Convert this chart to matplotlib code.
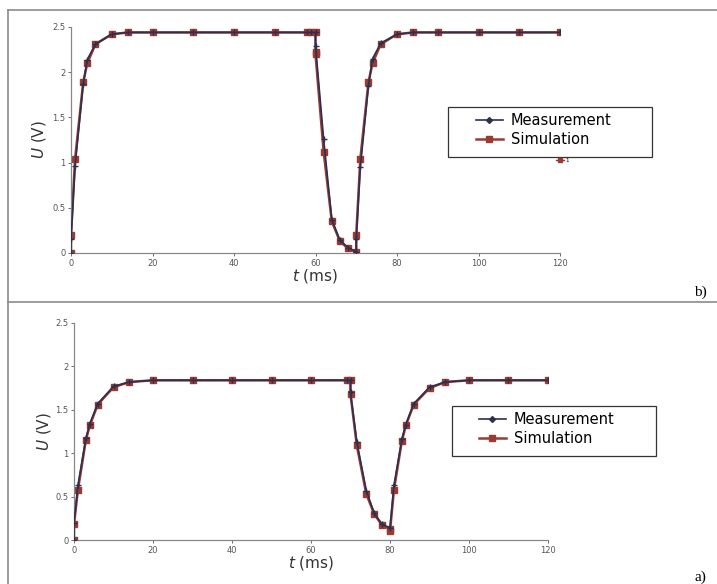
"""
    Tensão U(V) em função do tempo t(ms): medição x simulação
"""

import matplotlib
matplotlib.use("Agg")
from matplotlib import pyplot as plt
from matplotlib.lines import Line2D
from matplotlib.legend import Legend
from matplotlib.patches import Rectangle

# painel b) - tempos e tensões
t_b_sim = [0, 0, 1, 3, 4, 6, 10, 14, 20, 30, 40, 50, 58, 59, 60, 60, 60,
           62, 64, 66, 68, 70, 70, 71, 73, 74, 76, 80, 84, 90, 100, 110, 120]
u_b_sim = [0.0, 0.2, 1.04, 1.89, 2.1, 2.31, 2.42, 2.44, 2.44, 2.44, 2.44, 2.44, 2.44, 2.44, 2.44, 2.22, 2.2,
           1.12, 0.35, 0.13, 0.05, 0.01, 0.2, 1.04, 1.89, 2.1, 2.31, 2.42, 2.44, 2.44, 2.44, 2.44, 2.44]
t_b_med = [0, 0, 1, 3, 4, 6, 10, 14, 20, 30, 40, 50, 58, 59, 60, 60,
           62, 64, 66, 68, 70, 70, 71, 73, 74, 76, 80, 84, 90, 100, 110, 120]
u_b_med = [0.0, 0.15, 0.96, 1.87, 2.14, 2.31, 2.42, 2.44, 2.44, 2.44, 2.44, 2.44, 2.44, 2.44, 2.44, 2.29,
           1.26, 0.37, 0.14, 0.06, 0.01, 0.15, 0.95, 1.85, 2.15, 2.32, 2.42, 2.44, 2.44, 2.44, 2.44, 2.44]

# painel a) - tempos e tensões
t_a_sim = [0, 0, 1, 3, 4, 6, 10, 14, 20, 30, 40, 50, 60, 69, 70, 70,
           71.6, 74, 76, 78, 80, 80, 81, 83, 84, 86, 90, 94, 100, 110, 120]
u_a_sim = [0.0, 0.18, 0.58, 1.15, 1.32, 1.56, 1.76, 1.82, 1.84, 1.84, 1.84, 1.84, 1.84, 1.84, 1.84, 1.68,
           1.09, 0.53, 0.30, 0.17, 0.13, 0.10, 0.58, 1.14, 1.32, 1.56, 1.75, 1.82, 1.84, 1.84, 1.84]
t_a_med = [0, 0, 1, 3, 4, 6, 10, 14, 20, 30, 40, 50, 60, 69, 70, 70,
           71.6, 74, 76, 78, 80, 81, 83, 84, 86, 90, 94, 100, 110, 120]
u_a_med = [0.0, 0.2, 0.63, 1.17, 1.34, 1.57, 1.77, 1.82, 1.84, 1.84, 1.84, 1.84, 1.84, 1.84, 1.84, 1.7,
           1.13, 0.57, 0.31, 0.18, 0.14, 0.63, 1.16, 1.33, 1.57, 1.76, 1.82, 1.84, 1.84, 1.84]

cor_med = "#2b3050"
cor_sim = "#9b3a32"

fig = plt.figure(figsize=(7.17, 5.84), dpi=100)
W, H = 717.0, 584.0

# molduras da figura original (linhas cinzas)
borda = dict(color="#8a8a8a", lw=1.2, transform=fig.transFigure)
fig.add_artist(Line2D([8 / W, 1], [1 - 10 / H, 1 - 10 / H], **borda))
fig.add_artist(Line2D([8 / W, 8 / W], [0, 1 - 10 / H], **borda))
fig.add_artist(Line2D([8 / W, 1], [1 - 302 / H, 1 - 302 / H], **borda))


def painel(ret, t_med, u_med, t_sim, u_sim, caixa, leg_xy, ylab_x, xlab_y):
    ax = fig.add_axes(ret)
    ax.plot(t_sim, u_sim, color=cor_sim, lw=1.8, marker="s", ms=5, label="Simulation", zorder=2)
    ax.plot(t_med, u_med, color=cor_med, lw=1.2, marker="+", ms=5, mew=1.0, label="Measurement", zorder=3)
    ax.set_xlim(0, 120)
    ax.set_ylim(0, 2.5)
    ax.set_xticks([0, 20, 40, 60, 80, 100, 120])
    ax.set_yticks([0, 0.5, 1, 1.5, 2, 2.5])
    ax.set_yticklabels(["0", "0.5", "1", "1.5", "2", "2.5"])
    ax.tick_params(labelsize=6, colors="#555555", length=2, width=0.6, pad=2)
    for lado in ["top", "right"]:
        ax.spines[lado].set_visible(False)
    for lado in ["left", "bottom"]:
        ax.spines[lado].set_color("#888888")
        ax.spines[lado].set_linewidth(0.9)
    ax.set_xlabel("$t$ (ms)", fontsize=11, color="#333333")
    ax.xaxis.set_label_coords(0.5, xlab_y)
    ax.set_ylabel("$U$ (V)", fontsize=11, color="#333333")
    ax.yaxis.set_label_coords(ylab_x, 0.5)
    # legenda sem moldura + retângulo com o tamanho da caixa original
    hs, ls = ax.get_legend_handles_labels()
    hs[1] = Line2D([], [], color=cor_med, lw=1.2, marker="D", ms=3)
    ax.legend(hs[::-1], ls[::-1], loc="center left", bbox_to_anchor=leg_xy,
              fontsize=10.5, frameon=False, borderpad=0, borderaxespad=0,
              handlelength=1.85, handletextpad=0.55, labelspacing=0.3)
    ax.add_patch(Rectangle(caixa[0], caixa[1], caixa[2], transform=ax.transAxes,
                           facecolor="white", edgecolor="#333333", lw=0.9, clip_on=False, zorder=4))
    ax.get_legend().set_zorder(5)
    return ax


# painel b) em cima  (x0=71, x1=560, y0=253, y1=27 px)
def fb(px, py):
    return ((px - 71) / 489, (253 - py) / 226)


ax_b = painel([71 / W, 1 - 253 / H, 489 / W, 226 / H], t_b_med, u_b_med, t_b_sim, u_b_sim,
              (fb(448, 157), 204 / 489, 50 / 226), fb(476, 130), -0.047, -0.06)
# pedaço de uma terceira entrada de legenda que aparece cortada
extra = Line2D([], [], color=cor_sim, lw=1, marker="s", ms=2.5)
leg2 = Legend(ax_b, [extra], ["1"], loc="center left", bbox_to_anchor=fb(556, 160),
              fontsize=4, frameon=False, borderpad=0, borderaxespad=0,
              handlelength=1.5, handletextpad=0.2)
leg2.set_zorder(6)
ax_b.add_artist(leg2)


# painel a) em baixo  (x0=74, x1=548, y0=540, y1=323 px)
def fa(px, py):
    return ((px - 74) / 474, (540 - py) / 217)


ax_a = painel([74 / W, 1 - 540 / H, 474 / W, 217 / H], t_a_med, u_a_med, t_a_sim, u_a_sim,
              (fa(452, 456), 204 / 474, 50 / 217), fa(479, 429), -0.044, -0.065)

fig.text(700 / W, 1 - 292 / H, "b)", fontsize=11, family="Liberation Serif", ha="center", va="center")
fig.text(700 / W, 1 - 577 / H, "a)", fontsize=11, family="Liberation Serif", ha="center", va="center")

plt.savefig("out.png", dpi=100)
